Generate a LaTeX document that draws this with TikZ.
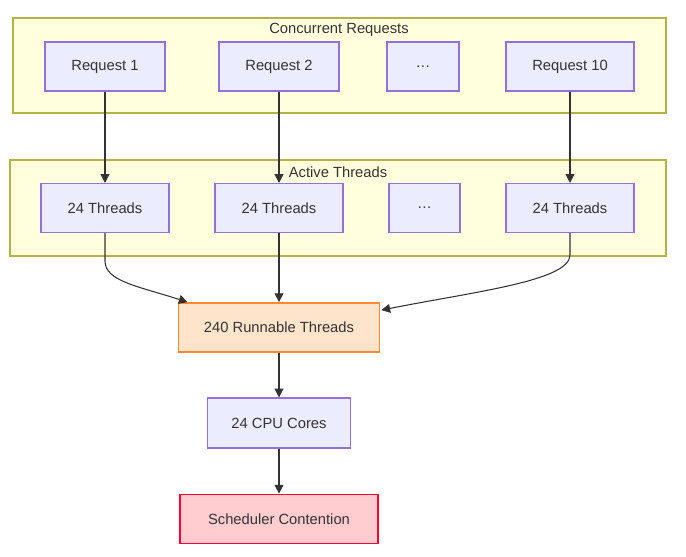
\documentclass[tikz,border=0pt]{standalone}
\usepackage{fontspec}
\setmainfont{Liberation Sans}
\usepackage{xcolor}
\usetikzlibrary{arrows.meta,positioning,calc}
\definecolor{clusterbg}{RGB}{255,255,222}
\definecolor{clusterline}{RGB}{178,178,70}
\definecolor{nodebg}{RGB}{236,236,255}
\definecolor{nodeline}{RGB}{147,112,219}
\definecolor{hotbg}{RGB}{255,228,204}
\definecolor{hotline}{RGB}{255,136,51}
\definecolor{errbg}{RGB}{255,204,208}
\definecolor{errline}{RGB}{255,0,51}
\definecolor{darktext}{RGB}{51,51,51}

\begin{document}
\begin{tikzpicture}[x=0.02cm,y=-0.02cm,
  cluster/.style={draw=clusterline,fill=clusterbg,line width=0.6pt},
  title/.style={font=\fontsize{8.4}{10}\selectfont,text=darktext},
  box/.style={draw=nodeline,fill=nodebg,line width=0.6pt,
              minimum height=0.98cm,inner sep=0pt,
              font=\fontsize{8.4}{10}\selectfont,text=darktext},
  hot/.style={box,draw=hotline,fill=hotbg,line width=1pt},
  err/.style={box,draw=errline,fill=errbg,line width=1pt},
  arrow/.style={-{Triangle[length=5pt,width=5pt]},line width=0.6pt,color=darktext}
]
\useasboundingbox (0,0) rectangle (686,556);

% clusters
\draw[cluster] (13,18) rectangle (666,113);
\node[title] (reqtitle) at (339,30) {Concurrent Requests};
\draw[cluster] (10,160) rectangle (666,256);
\node[title] (thrtitle) at (338,172) {Active Threads};

\node[box,minimum width=2.4cm]  (r1)   at (105,66.5)   {Request 1};
\node[box,minimum width=2.4cm]  (r2)   at (279,66.5)   {Request 2};
\node[box,minimum width=1.44cm] (rdot) at (423,66.5)   {\dots};
\node[box,minimum width=2.56cm] (r10)  at (570,66.5)   {Request 10};

\node[box,minimum width=2.56cm] (t1)   at (105,208)    {24 Threads};
\node[box,minimum width=2.56cm] (t2)   at (279,208)    {24 Threads};
\node[box,minimum width=1.42cm] (tdot) at (424.5,208)  {\dots};
\node[box,minimum width=2.56cm] (t10)  at (570,208)    {24 Threads};

\node[hot,minimum width=4.02cm] (run)   at (279,327.5) {240 Runnable Threads};
\node[box,minimum width=2.86cm,minimum height=1cm] (cores) at (279,423) {24 CPU Cores};
\node[err,minimum width=3.96cm] (sched) at (279,519)   {Scheduler Contention};

\draw[arrow] (r1)  -- (t1);
\draw[arrow] (r2)  -- (t2);
\draw[arrow] (r10) -- (t10);
\draw[arrow] (t1.south) -- ++(0,28) .. controls +(0,20) and +(-50,-16) .. ($(run.north west)+(10,0)$);
\draw[arrow] (t2)  -- (run);
\draw[arrow] (t10.south) -- ++(0,22) .. controls +(0,26) and +(90,-18) .. ($(run.north east)+(1,8)$);
\draw[arrow] (run)   -- (cores);
\draw[arrow] (cores) -- (sched);
\end{tikzpicture}
\end{document}
